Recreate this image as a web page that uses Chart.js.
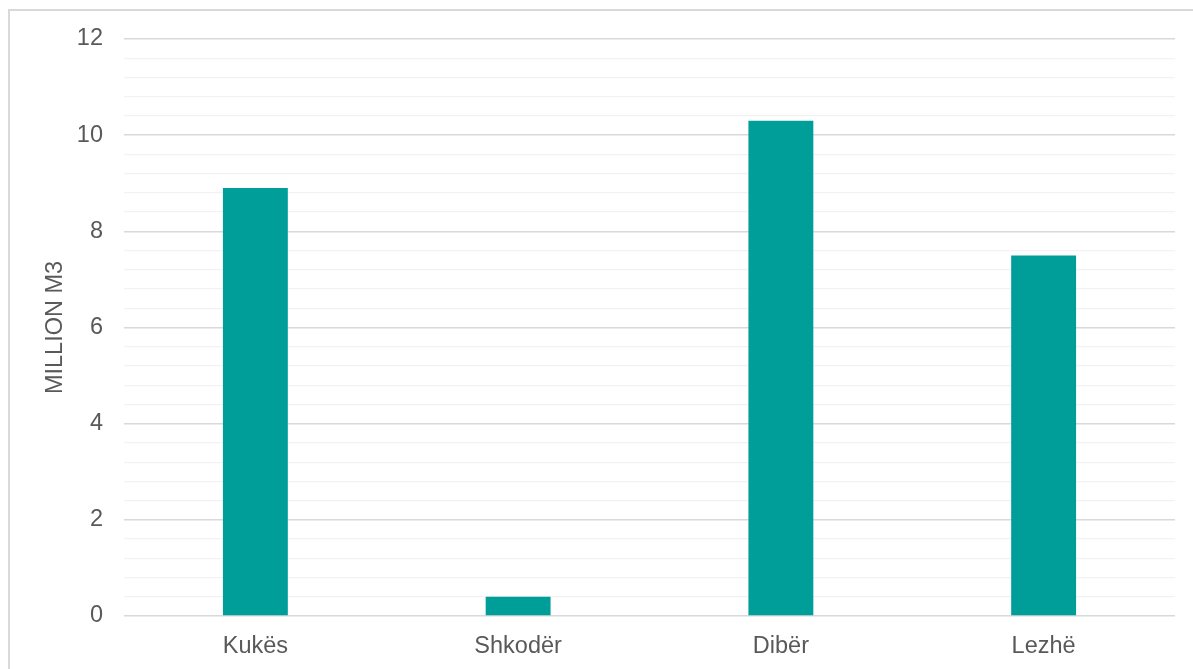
<!DOCTYPE html>
<html>
<head>
<meta charset="utf-8">
<script src="https://cdn.jsdelivr.net/npm/chart.js@4"></script>
<style>
  html, body { margin: 0; padding: 0; background: #fff; overflow: hidden; }
  #frame { position: absolute; left: 8px; top: 9px; width: 1300px; height: 800px; border: 2px solid #d9d9d9; box-sizing: border-box; }
  #wrap { position: absolute; left: 0; top: 0; width: 1193px; height: 669px; }
</style>
</head>
<body>
<div id="frame"></div>
<div id="wrap"><canvas id="c" width="1193" height="669"></canvas></div>
<script>
const categories = ["Kukës", "Shkodër", "Dibër", "Lezhë"];
const volumes = [8.9, 0.4, 10.3, 7.5];
const yTitle = "MILLION M3";
const yMax = 12;
const yMinorStep = 0.4;
const yMajorStep = 2;

const isMajor = v => Math.abs(v / yMajorStep - Math.round(v / yMajorStep)) < 1e-6;
const font = { family: "'Liberation Sans', Arial, sans-serif", size: 23.5 };

new Chart(document.getElementById('c'), {
  type: 'bar',
  data: {
    labels: categories,
    datasets: [{
      data: volumes,
      backgroundColor: '#009e99',
      borderWidth: 0,
      barPercentage: 1,
      categoryPercentage: 0.247
    }]
  },
  options: {
    responsive: false,
    animation: false,
    devicePixelRatio: 1,
    layout: { padding: { left: 37, right: 18, top: 39, bottom: 0 } },
    plugins: { legend: { display: false }, tooltip: { enabled: false } },
    scales: {
      x: {
        grid: { display: false },
        border: { display: false },
        ticks: { color: '#595959', font: font, padding: 8, maxRotation: 0 },
        afterFit: s => { s.height = 53; }
      },
      y: {
        min: 0,
        max: yMax,
        border: { display: false },
        grid: {
          drawTicks: false,
          color: ctx => isMajor(ctx.tick.value) ? '#d9d9d9' : '#f2f2f2',
          lineWidth: ctx => isMajor(ctx.tick.value) ? 1.5 : 1.2
        },
        ticks: {
          stepSize: yMinorStep,
          autoSkip: false,
          padding: 21,
          color: '#595959',
          font: font,
          callback: v => isMajor(v) ? String(Math.round(v)) : ''
        },
        title: { display: true, text: yTitle, color: '#595959', font: font, padding: 4 },
        afterFit: s => { s.width = 87; }
      }
    }
  }
});
</script>
</body>
</html>
